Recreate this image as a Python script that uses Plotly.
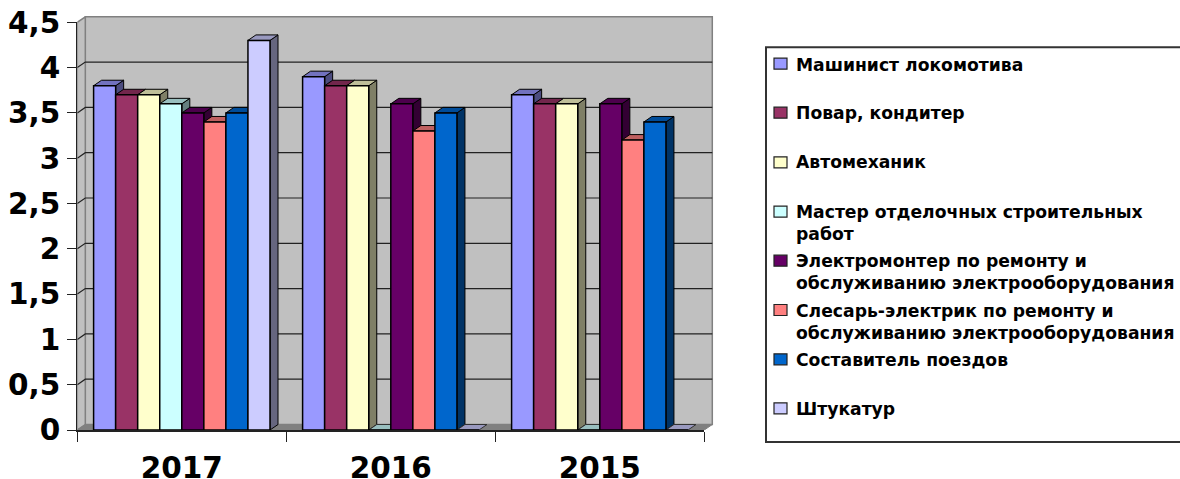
import plotly.graph_objects as go

W, H = 1180, 479
years = ["2017", "2016", "2015"]
professions = ["Машинист локомотива", "Повар, кондитер", "Автомеханик",
               "Мастер отделочных строительных<br>работ",
               "Электромонтер по ремонту и<br>обслуживанию электрооборудования",
               "Слесарь-электрик по ремонту и<br>обслуживанию электрооборудования",
               "Составитель поездов", "Штукатур"]
colors = ["#9999FF", "#993366", "#FFFFCC", "#CCFFFF", "#660066", "#FF8080", "#0066CC", "#CCCCFF"]
mashinist = [3.8, 3.9, 3.7]
povar = [3.7, 3.8, 3.6]
avtomehanik = [3.7, 3.8, 3.6]
master = [3.6, 0, 0]
elektromonter = [3.5, 3.6, 3.6]
slesar = [3.4, 3.3, 3.2]
sostavitel = [3.5, 3.5, 3.4]
shtukatur = [4.3, 0, 0]
series = [mashinist, povar, avtomehanik, master, elektromonter, slesar, sostavitel, shtukatur]
y_ticks = [0, 0.5, 1, 1.5, 2, 2.5, 3, 3.5, 4, 4.5]
y_labels = ["0", "0,5", "1", "1,5", "2", "2,5", "3", "3,5", "4", "4,5"]

# pixel frame of the front axes
X0, X1, Y0, Y1 = 77.3, 704.3, 430.0, 22.3
ux = (X1 - X0) / 3
uy = (Y0 - Y1) / 4.5
dx, dy = 8 / ux, 5.5 / uy
BX1, BY1 = 722.0, 8.0        # extent of the backdrop subplot
bar_w = 22.05 / ux
FONT = "DejaVu Sans"


def shade(c, f):
    return "#%02X%02X%02X" % tuple(int(int(c[i:i + 2], 16) * f) for i in (1, 3, 5))


def poly(xs, ys, fill, line="#000000", lw=1.0):
    return go.Scatter(x=xs + xs[:1], y=ys + ys[:1], mode="lines", fill="toself", fillcolor=fill,
                      line=dict(color=line, width=lw), hoverinfo="skip", showlegend=False,
                      xaxis="x", yaxis="y")


fig = go.Figure()
# walls and floor
fig.add_trace(poly([dx, 3 + dx, 3 + dx, dx], [dy, dy, 4.5 + dy, 4.5 + dy], "#C0C0C0", "#808080", 1.5))
fig.add_trace(poly([0, dx, dx, 0], [0, dy, 4.5 + dy, 4.5], "#C0C0C0", "#808080", 1.5))
fig.add_trace(poly([0, 3, 3 + dx, dx], [0, 0, dy, dy], "#808080", "#808080", 1))
# gridlines
for v in y_ticks[1:-1]:
    fig.add_trace(go.Scatter(x=[0, dx, 3 + dx], y=[v, v + dy, v + dy], mode="lines",
                             line=dict(color="#222222", width=1.2), hoverinfo="skip",
                             showlegend=False, xaxis="x", yaxis="y"))
# top and side faces, left to right
for g in range(3):
    start = g + (1 - bar_w * 8) / 2
    for s, vals in enumerate(series):
        l = start + s * bar_w
        r = l + bar_w
        v = vals[g]
        fig.add_trace(poly([r, r + dx, r + dx, r], [0, dy, v + dy, v], shade(colors[s], 0.5)) if v > 0 else
                      poly([l, r, r + dx, l + dx], [0, 0, dy, dy], shade(colors[s], 0.75), "#333333", 1))
        if v > 0:
            fig.add_trace(poly([l, r, r + dx, l + dx], [v, v, v + dy, v + dy], shade(colors[s], 0.75)))
# front faces
for s, vals in enumerate(series):
    fig.add_trace(go.Bar(x=[g + 0.5 for g in range(3)], y=vals, name=professions[s].replace("<br>", " "),
                         marker=dict(color=colors[s], line=dict(color="#000000", width=1.5)),
                         xaxis="x2", yaxis="y2", showlegend=False))

# custom legend
legend_y = [63.7, 112.7, 162.3, 211.7, 260.7, 310, 359.3, 408.3]
text_shift = [1.3, 0.6, 0.4, 1.0, 1.0, 1.0, 1.0, 1.0]
shapes = [dict(type="rect", xref="paper", yref="paper", x0=766 / W, x1=1184 / W, y0=1 - 47.3 / H, y1=1 - 442 / H,
               line=dict(color="#333333", width=2), fillcolor="white")]
ann = []
FS = 17.2
for s, name in enumerate(professions):
    yc = legend_y[s]
    shapes.append(dict(type="rect", xref="paper", yref="paper", x0=774 / W, x1=787 / W,
                       y0=1 - (yc - 5.5) / H, y1=1 - (yc + 5.5) / H, fillcolor=colors[s],
                       line=dict(color="#222222", width=1.2)))
    ann.append(dict(xref="paper", yref="paper", x=795 / W, y=1 - (yc + text_shift[s] - 11.5) / H,
                    xanchor="left", yanchor="top", text="<b>%s</b>" % name, showarrow=False, align="left",
                    borderpad=0, font=dict(family=FONT, size=FS, color="#000000")))

fig.update_layout(
    width=W, height=H, margin=dict(l=0, r=0, t=0, b=0, autoexpand=False), paper_bgcolor="white",
    plot_bgcolor="rgba(0,0,0,0)",
    showlegend=False, barmode="group", bargap=1 - 8 * bar_w, bargroupgap=0,
    shapes=shapes, annotations=ann,
    xaxis=dict(domain=[X0 / W, BX1 / W], range=[0, (BX1 - X0) / ux], visible=False, fixedrange=True, automargin=False),
    yaxis=dict(domain=[1 - Y0 / H, 1 - BY1 / H], range=[0, (Y0 - BY1) / uy], visible=False, fixedrange=True, automargin=False),
    xaxis2=dict(domain=[X0 / W, X1 / W], range=[0, 3], anchor="y2", tickmode="array",
                tickvals=[0, 1, 2, 3], ticktext=["", "", "", ""], ticks="outside", ticklen=10, tickwidth=1.2,
                tickcolor="#222222", showline=True, linecolor="#222222", linewidth=1.5, showgrid=False,
                zeroline=False, fixedrange=True, automargin=False),
    yaxis2=dict(domain=[1 - Y0 / H, 1 - Y1 / H], range=[0, 4.5], anchor="x2", tickmode="array",
                tickvals=y_ticks, ticktext=["<b>%s</b>" % t for t in y_labels], ticks="outside", ticklen=9,
                tickwidth=1.2, tickcolor="#222222", showline=True, linecolor="#222222", linewidth=1.2,
                showgrid=False, zeroline=False, fixedrange=True, ticklabelstandoff=1, automargin=False,
                tickfont=dict(family=FONT, size=29.5, color="#000000")),
    xaxis3=dict(domain=[X0 / W, X1 / W], range=[0, 3], anchor="y2", overlaying="x2", tickmode="array",
                tickvals=[0.5, 1.5, 2.5], ticktext=["<b>%s</b>" % y for y in years], ticks="",
                ticklabelstandoff=17, showgrid=False, zeroline=False, showline=False, fixedrange=True,
                automargin=False, tickfont=dict(family=FONT, size=29.5, color="#000000")),
)
# category labels centred between ticks
fig.add_trace(go.Scatter(x=[0.5], y=[0], xaxis="x3", yaxis="y2", mode="markers", marker=dict(opacity=0),
                         hoverinfo="skip", showlegend=False))
fig.write_html("out.html", config={"displayModeBar": False}, post_script="document.body.style.margin='0';")
